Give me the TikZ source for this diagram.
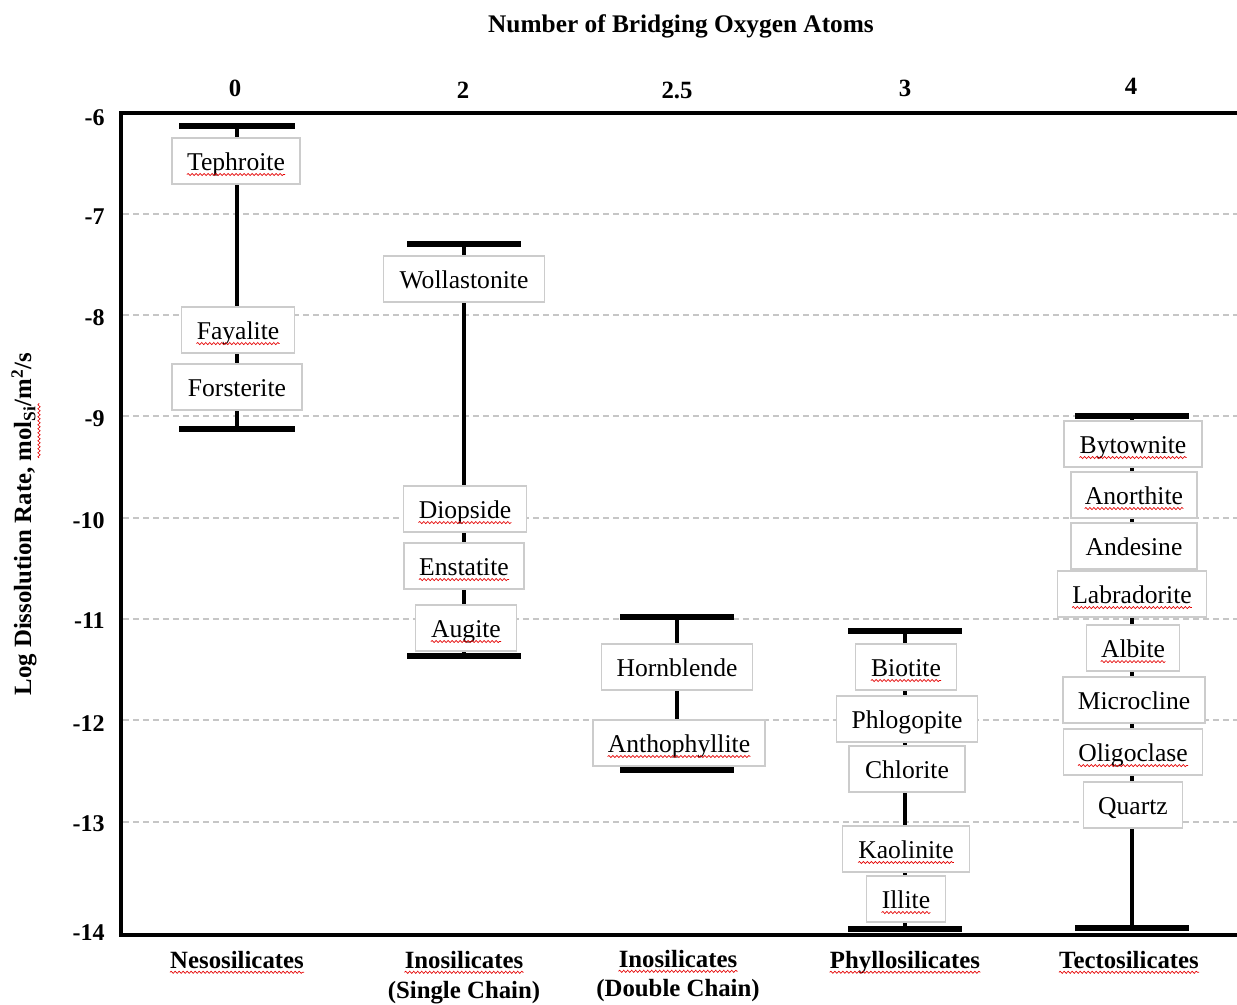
\documentclass[tikz,border=0pt]{standalone}
\usepackage{fontspec}
\setmainfont{Liberation Serif}
\usetikzlibrary{decorations.pathmorphing}
\begin{document}
\begin{tikzpicture}[x=0.75pt,y=-0.75pt,
  gridline/.style={gray!45, line width=0.8pt, dash pattern=on 4.5pt off 3pt},
  axisline/.style={line width=3pt, line cap=rect, line join=miter},
  whisker/.style={line width=2.3pt},
  capbar/.style={line width=5.2pt},
  mbox/.style={draw=gray!40, line width=0.9pt, fill=white, minimum height=34.5pt, inner sep=0pt},
  mtext/.style={font=\fontsize{19.2}{21}\selectfont, inner sep=0pt, anchor=base},
  blabel/.style={font=\bfseries\fontsize{18.6}{20}\selectfont, inner sep=0pt, anchor=base},
  ticklabel/.style={font=\bfseries\fontsize{18}{20}\selectfont, inner sep=0pt, anchor=east},
  wave/.style={red!90!black, line width=0.5pt, decorate, decoration={snake, amplitude=0.8pt, segment length=3pt}},
]
\path[use as bounding box, fill=white] (0,0) rectangle (1237,1004);

% grid lines
\foreach \i/\yy in {7/214,8/315,9/416,10/518,11/619,12/720,13/822}{
  \coordinate (gl\i) at (123,\yy);
  \coordinate (gr\i) at (1237,\yy);
  \draw[gridline] (gl\i) -- (gr\i);
}

% axes
\coordinate (axTL) at (121,113);
\coordinate (axTR) at (1237,113);
\coordinate (axBL) at (121,935);
\coordinate (axBR) at (1237,935);
\draw[axisline] (axTR) -- (axTL) -- (axBL) -- (axBR);

% tick labels
\foreach \i/\v/\yy in {6/-6/118,7/-7/217,8/-8/318,9/-9/419,10/-10/521,11/-11/621,12/-12/724,13/-13/824,14/-14/933}{
  \node[ticklabel] (tk\i) at (105,\yy) {\v};
}

% title and top numbers
\node[blabel, font=\bfseries\fontsize{19}{20}\selectfont] (title) at (681,32) {Number of Bridging Oxygen Atoms};
\node[blabel] (n0) at (235,96) {0};
\node[blabel] (n2) at (463,98) {2};
\node[blabel] (n25) at (677,98) {2.5};
\node[blabel] (n3) at (905,96) {3};
\node[blabel] (n4) at (1131,94) {4};

% y axis label
\node[font=\bfseries\fontsize{18.6}{20}\selectfont, rotate=90, inner sep=0pt] (ylab) at (24,524)
  {Log Dissolution Rate, mol\textsubscript{Si}/m\textsuperscript{2}/s};
\coordinate (ysqa) at (39,458);
\coordinate (ysqb) at (39,403);
\draw[wave] (ysqa) -- (ysqb);

% whiskers
\foreach \c/\cx/\ty/\by/\hw in {1/237/126/429/58, 2/464/244/656/57, 3/677/617/770/57, 4/905/631/929/57, 5/1132/416/928/57}{
  \coordinate (w\c t) at (\cx,\ty);
  \coordinate (w\c b) at (\cx,\by);
  \coordinate (w\c tl) at (\cx-\hw,\ty);
  \coordinate (w\c tr) at (\cx+\hw,\ty);
  \coordinate (w\c bl) at (\cx-\hw,\by);
  \coordinate (w\c br) at (\cx+\hw,\by);
  \draw[whisker] (w\c t) -- (w\c b);
  \draw[capbar] (w\c tl) -- (w\c tr);
  \draw[capbar] (w\c bl) -- (w\c br);
}

% mineral boxes
\foreach \nm/\cx/\cy/\w/\txt/\sq in {
  teph/236/161/128/Tephroite/1,
  faya/238/330/113/Fayalite/1,
  fors/237/387/130/Forsterite/0,
  woll/464/279/161/Wollastonite/0,
  diop/465/509/123/Diopside/1,
  enst/464/566/120/Enstatite/1,
  augi/466/628/101/Augite/1,
  horn/677/667/151/Hornblende/0,
  anth/679/743/172/Anthophyllite/1,
  biot/906/667/101/Biotite/1,
  phlo/907/719/141/Phlogopite/0,
  chlo/907/769/116/Chlorite/0,
  kaol/906/849/127/Kaolinite/1,
  illi/906/899/79/Illite/1,
  byto/1133/444/138/Bytownite/1,
  anor/1134/495/126/Anorthite/1,
  ande/1134/546/126/Andesine/0,
  labr/1132/594/149/Labradorite/1,
  albi/1133/648/93/Albite/1,
  micr/1134/700/142/Microcline/0,
  olig/1133/752/139/Oligoclase/1,
  quar/1133/805/99/Quartz/0}{
  \node[mbox, minimum width={\w*0.75}] (b\nm) at (\cx,\cy) {};
  \node[mtext] (t\nm) at (\cx,\cy+9) {\txt};
  \ifnum\sq=1
    \draw[wave] ([yshift=-3.4pt]t\nm.base west) -- ([yshift=-3.4pt]t\nm.base east);
  \fi
}

% category labels
\foreach \nm/\cx/\by/\txt/\sq in {
  neso/237/968/Nesosilicates/1,
  inoa/464/968/Inosilicates/1,
  inoab/464/998/{(Single Chain)}/0,
  inob/678/967/Inosilicates/1,
  inobb/678/996/{(Double Chain)}/0,
  phyl/905/968/Phyllosilicates/1,
  tect/1129/968/Tectosilicates/1}{
  \node[blabel] (c\nm) at (\cx,\by) {\txt};
  \ifnum\sq=1
    \draw[wave] ([yshift=-3.2pt]c\nm.base west) -- ([yshift=-3.2pt]c\nm.base east);
  \fi
}
\end{tikzpicture}
\end{document}
